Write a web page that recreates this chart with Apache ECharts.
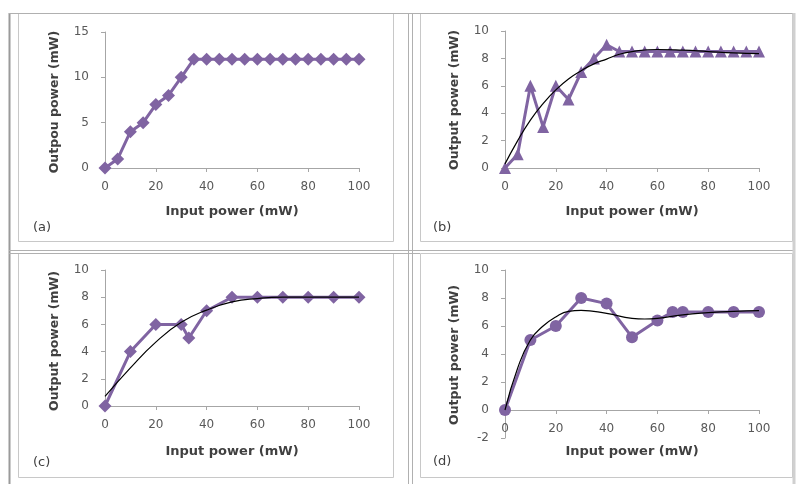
<!DOCTYPE html>
<html>
<head>
<meta charset="utf-8">
<script src="https://cdn.jsdelivr.net/npm/echarts@6/dist/echarts.min.js"></script>
<style>
html,body{margin:0;padding:0;background:#fff;}
#chart{width:797px;height:484px;}
</style>
</head>
<body>
<div id="chart"></div>
<script>
// ---- Data ----
// Panel (a)
const aX = [0,5,10,15,20,25,30,35,40,45,50,55,60,65,70,75,80,85,90,95,100];
const aY = [0,1,4,5,7,8,10,12,12,12,12,12,12,12,12,12,12,12,12,12,12];
// Panel (b)
const bX = [0,5,10,15,20,25,30,35,40,45,50,55,60,65,70,75,80,85,90,95,100];
const bY = [0,1,6,3,6,5,7,8,9,8.5,8.5,8.5,8.5,8.5,8.5,8.5,8.5,8.5,8.5,8.5,8.5];
const bTrendX = [0,5,10,15,20,25,30,35,40,45,50,60,70,80,90,100];
const bTrendY = [0.3,2.0,3.5,4.7,5.7,6.5,7.1,7.6,7.95,8.3,8.5,8.65,8.6,8.5,8.4,8.35];
// Panel (c)
const cX = [0,10,20,30,33,40,50,60,70,80,90,100];
const cY = [0,4,6,6,5,7,8,8,8,8,8,8];
const cTrendX = [0,10,20,30,40,50,60,70,80,90,100];
const cTrendY = [0.7,2.8,4.7,6.15,7.05,7.65,7.9,8.0,8.0,8.0,8.0];
// Panel (d)
const dX = [0,10,20,30,40,50,60,66,70,80,90,100];
const dY = [0,5,6,8,7.6,5.2,6.4,7,7,7,7,7];
const dTrendX = [0,5,10,15,20,25,30,40,50,55,60,70,80,90,100];
const dTrendY = [0,3.0,5.0,6.0,6.65,7.05,7.12,6.9,6.55,6.5,6.55,6.8,6.95,7.05,7.1];

const xTitle = 'Input power (mW)';
const yTitles = ['Outpou power (mW)','Output power (mW)','Output power (mW)','Output power (mW)'];
const panelLabels = ['(a)','(b)','(c)','(d)'];
const yRanges = [[0,15,5],[0,10,2],[0,10,2],[-2,10,2]];

const purple = '#8064A2';
const axisColor = '#a6a6a6';
const labelColor = '#595959';
const FONT = 'DejaVu Sans';

function zip(xs, ys){ return xs.map((x,i)=>[x, ys[i]]); }

const grids = [
  {left:105, top:32, width:254, height:136},
  {left:505, top:31, width:254, height:137},
  {left:105, top:270, width:254, height:136},
  {left:505, top:270, width:254, height:168}
];
// panel (d): horizontal axis crosses at y = 0, i.e. 28px above the grid bottom
const xOffsets = [0,0,0,-28];

const xAxes = grids.map((g,i)=>({
  type:'value', gridIndex:i, min:0, max:100, interval:20,
  offset:xOffsets[i],
  axisLine:{show:true, onZero:false, lineStyle:{color:axisColor, width:1}},
  axisTick:{show:true, length:4, lineStyle:{color:axisColor}},
  axisLabel:{color:labelColor, fontFamily:FONT, fontSize:12, margin:13},
  splitLine:{show:false}
}));
const yAxes = grids.map((g,i)=>({
  type:'value', gridIndex:i, min:yRanges[i][0], max:yRanges[i][1], interval:yRanges[i][2],
  axisLine:{show:true, lineStyle:{color:axisColor, width:1}},
  axisTick:{show:true, length:4, lineStyle:{color:axisColor}},
  axisLabel:{color:labelColor, fontFamily:FONT, fontSize:12, margin:16},
  splitLine:{show:false}
}));

function dataSeries(i, xs, ys, symbol, size){
  return {type:'line', xAxisIndex:i, yAxisIndex:i, data:zip(xs,ys),
    symbol:symbol, symbolSize:size, showSymbol:true,
    lineStyle:{color:purple, width:3}, itemStyle:{color:purple}, z:2};
}
function trendSeries(i, xs, ys){
  return {type:'line', xAxisIndex:i, yAxisIndex:i, data:zip(xs,ys),
    smooth:0.5, showSymbol:false, symbol:'none',
    lineStyle:{color:'#000', width:1.2}, z:3};
}

const series = [
  dataSeries(0, aX, aY, 'diamond', 13),
  dataSeries(1, bX, bY, 'triangle', 12),
  trendSeries(1, bTrendX, bTrendY),
  dataSeries(2, cX, cY, 'diamond', 13),
  trendSeries(2, cTrendX, cTrendY),
  dataSeries(3, dX, dY, 'circle', 12),
  trendSeries(3, dTrendX, dTrendY)
];

// frame graphics
const frameColor = '#c8c8c8';
const tableColor = '#9a9a9a';
function line(x1,y1,x2,y2,color,w){
  return {type:'line', shape:{x1,y1,x2,y2}, style:{stroke:color, lineWidth:w}, silent:true, z:-1};
}
function box(x,y,w,h){
  return {type:'rect', shape:{x,y,width:w,height:h}, style:{fill:'none', stroke:frameColor, lineWidth:1}, silent:true, z:-1};
}
const graphics = [
  box(18.5,13.5,375,228),
  box(420.5,13.5,372,228),
  box(18.5,253.5,375,224),
  box(420.5,253.5,372,224),
  line(9.5,13,9.5,484,tableColor,2),
  line(9,13.5,795,13.5,'#b0b0b0',1),
  line(408.5,13,408.5,484,'#b0b0b0',1),
  line(412.5,13,412.5,484,'#b0b0b0',1),
  line(9,250.5,795,250.5,'#b0b0b0',1),
  line(9,253.5,420,253.5,'#b0b0b0',1),
  line(794,13,794,484,'#d0d0d0',3)
];
const xTitlePos = [[232,212],[632,212],[232,452],[632,452]];
const yTitlePos = [[55,102],[455,100],[55,341],[455,355]];
const labelPos = [[33,228],[433,228],[33,463],[433,462]];
for(let i=0;i<4;i++){
  graphics.push({type:'text', x:xTitlePos[i][0], y:xTitlePos[i][1],
    style:{text:xTitle, fill:'#404040', font:'bold 13px "DejaVu Sans"', align:'center', verticalAlign:'middle'}});
  graphics.push({type:'text', x:yTitlePos[i][0], y:yTitlePos[i][1], rotation:Math.PI/2,
    style:{text:yTitles[i], fill:'#404040', font:'bold 12.5px "DejaVu Sans"', align:'center', verticalAlign:'middle'}});
  graphics.push({type:'text', x:labelPos[i][0], y:labelPos[i][1],
    style:{text:panelLabels[i], fill:'#404040', font:'13px "DejaVu Sans"', align:'left', verticalAlign:'middle'}});
}

const chart = echarts.init(document.getElementById('chart'), null, {renderer:'canvas'});
chart.setOption({
  animation:false,
  backgroundColor:'#fff',
  grid:grids,
  xAxis:xAxes,
  yAxis:yAxes,
  series:series,
  graphic:graphics
});
</script>
</body>
</html>
